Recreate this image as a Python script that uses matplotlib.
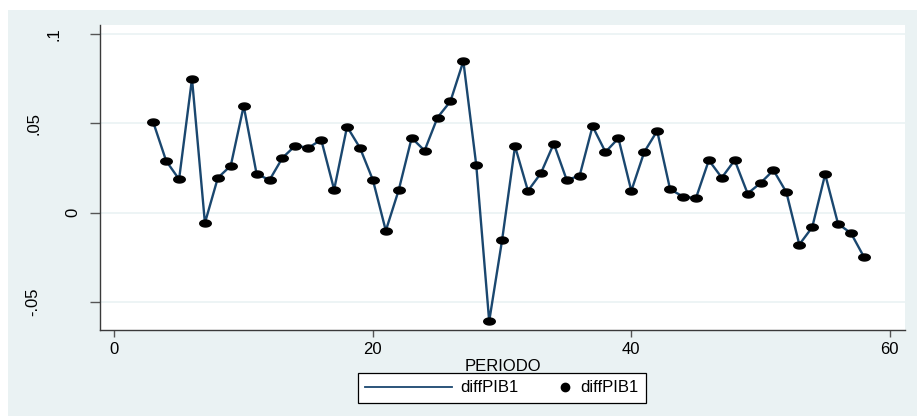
import numpy as np
import matplotlib
matplotlib.use("Agg")
import matplotlib.pyplot as plt
from matplotlib.path import Path
from matplotlib.patches import Rectangle
from matplotlib.lines import Line2D
from matplotlib.legend_handler import HandlerLine2D

periodo = list(range(3, 59))
diffpib1 = [
    0.0507, 0.0290, 0.0187, 0.0751, -0.0058, 0.0195, 0.0263, 0.0598, 0.0217, 0.0183,
    0.0307, 0.0376, 0.0363, 0.0409, 0.0129, 0.0482, 0.0363, 0.0183, -0.0101, 0.0127,
    0.0419, 0.0348, 0.0533, 0.0624, 0.0849, 0.0266, -0.0609, -0.0153, 0.0372, 0.0122,
    0.0221, 0.0387, 0.0183, 0.0207, 0.0484, 0.0340, 0.0417, 0.0122, 0.0340, 0.0458,
    0.0131, 0.0090, 0.0081, 0.0294, 0.0196, 0.0294, 0.0107, 0.0166, 0.0238, 0.0114,
    -0.0179, -0.0082, 0.0215, -0.0063, -0.0115, -0.0248,
]
xticks = [0, 20, 40, 60]
yticks = [-0.05, 0, 0.05, 0.1]
ytick_labels = ["-.05", "0", ".05", ".1"]
series_label = "diffPIB1"

navy = "#1A476F"
bg = "#EAF2F3"
plt.rcParams["font.family"] = ["Liberation Sans", "DejaVu Sans"]
fs = 12

# stretched ellipse marker (the source image is wider than tall)
t = np.linspace(0, 2 * np.pi, 40)
ellipse = Path(np.column_stack([1.65 * np.cos(t), np.sin(t)]), closed=True)


class DotHandler(HandlerLine2D):
    # put the single marker near the right end of the handle box
    def get_xdata(self, legend, xdescent, ydescent, width, height, fontsize):
        p = 0.45 * fontsize
        xdata = [-xdescent + width - 2 * p, -xdescent + width]
        return xdata, [-xdescent + width - p]


fig = plt.figure(figsize=(9.17, 4.16), dpi=100, facecolor="white")
fig.patches.append(Rectangle((8 / 917, 0), 909 / 917, 406 / 416,
                             transform=fig.transFigure, facecolor=bg,
                             edgecolor="none", zorder=-10))

ax = fig.add_axes([100 / 917, 86 / 416, 805 / 917, 305 / 416])
ax.set_facecolor("white")
ax.plot(periodo, diffpib1, color=navy, lw=1.7, zorder=2)
ax.plot(periodo, diffpib1, linestyle="none", marker=ellipse, markersize=8.3,
        color="black", zorder=3)

ax.set_xlim(-1.12, 61.18)
ax.set_ylim(-0.0658, 0.1052)
ax.set_xticks(xticks)
ax.set_yticks(yticks)
ax.yaxis.grid(True, color=bg, lw=1.2)
ax.set_axisbelow(True)

for s in ["top", "right"]:
    ax.spines[s].set_visible(False)
for s in ["left", "bottom"]:
    ax.spines[s].set_color("#3a3a3a")
    ax.spines[s].set_linewidth(1.0)

ax.tick_params(axis="x", length=5, width=1, color="#555555", pad=4,
               labelsize=fs)
ax.tick_params(axis="y", length=7, width=1, color="#555555", labelleft=False)

# vertical y labels (positions follow the reference's uneven placement)
label_x = {"-.05": -0.083, "0": -0.034, ".05": -0.082, ".1": -0.057}
for v, lab in zip(yticks, ytick_labels):
    ax.text(label_x[lab], v, lab, transform=ax.get_yaxis_transform(),
            rotation=90, ha="center", va="center", fontsize=fs)

ax.set_xlabel("PERIODO", fontsize=fs, labelpad=1)

handles = [Line2D([], [], color=navy, lw=1.3),
           Line2D([], [], color="black", linestyle="none", marker="o",
                  markersize=6)]
leg = fig.legend(handles, [series_label, series_label], loc="center",
                 bbox_to_anchor=(502 / 917, 1 - 388 / 416), ncol=2,
                 fontsize=fs, frameon=True, fancybox=False, framealpha=1,
                 edgecolor="black", handlelength=5.2, handletextpad=0.5,
                 columnspacing=-2.0, borderpad=0.45,
                 handler_map={handles[1]: DotHandler(numpoints=1)})
leg.get_frame().set_linewidth(0.9)

fig.savefig("out.png", dpi=100, facecolor=fig.get_facecolor())
